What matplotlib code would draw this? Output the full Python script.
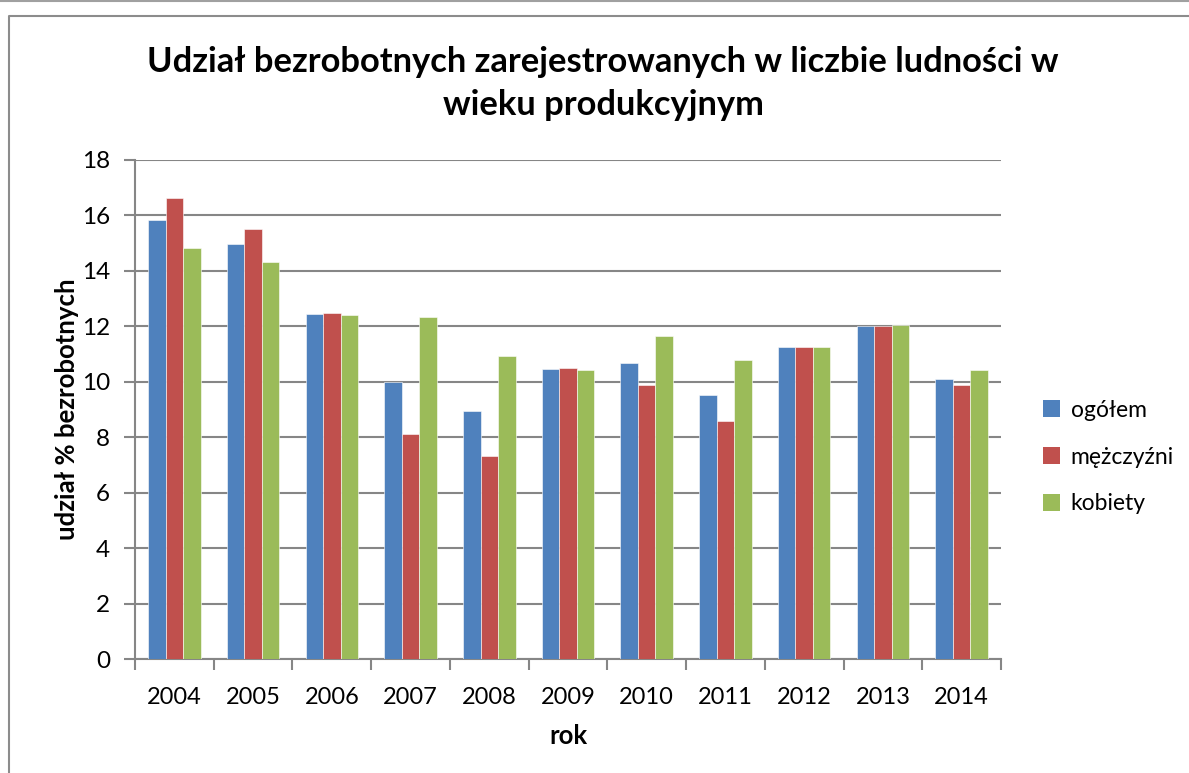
import numpy as np
import matplotlib.pyplot as plt
from matplotlib.lines import Line2D
from matplotlib.patches import Patch

plt.rcParams['font.family'] = ['Lato', 'DejaVu Sans']

years = ['2004', '2005', '2006', '2007', '2008', '2009', '2010', '2011', '2012', '2013', '2014']
ogolem = [15.83, 14.97, 12.44, 10.0, 8.93, 10.46, 10.66, 9.53, 11.24, 12.02, 10.11]
mezczyzni = [16.64, 15.52, 12.47, 8.1, 7.31, 10.48, 9.9, 8.57, 11.24, 12.02, 9.87]
kobiety = [14.84, 14.32, 12.40, 12.34, 10.94, 10.44, 11.64, 10.8, 11.27, 12.05, 10.41]

series = [('ogółem', ogolem, '#4F81BD'),
          ('mężczyźni', mezczyzni, '#C0504D'),
          ('kobiety', kobiety, '#9BBB59')]

W, H = 1189, 773
fig = plt.figure(figsize=(W / 100, H / 100), dpi=100)
ax = fig.add_axes([135 / W, 1 - 659 / H, (1001 - 135) / W, (659 - 160) / H])

x = np.arange(len(years))
bw = 1 / 4.5
for i, (name, vals, col) in enumerate(series):
    ax.bar(x + (i - 1) * bw, vals, width=bw, color=col, edgecolor='white',
           linewidth=0.4, label=name, zorder=3)

grid_c = '#868686'
ax.set_xlim(-0.5, len(years) - 0.5)
ax.set_ylim(0, 18)
ax.set_yticks(range(0, 19, 2))
ax.yaxis.grid(True, color=grid_c, linewidth=1.5, zorder=0)
ax.set_xticks(x)
ax.set_xticklabels(years)
ax.set_xticks(np.arange(-0.5, len(years)), minor=True)
ax.tick_params(axis='x', which='major', length=0, pad=20, labelsize=17)
ax.tick_params(axis='x', which='minor', length=8, width=1.5, color=grid_c, direction='out')
ax.tick_params(axis='y', length=8, width=1.5, color=grid_c, pad=10, labelsize=17.5)
for s in ['top', 'right']:
    ax.spines[s].set_visible(False)
for s in ['left', 'bottom']:
    ax.spines[s].set_color(grid_c)
    ax.spines[s].set_linewidth(1.5)

ax.set_xlabel('rok', fontsize=18.5, fontweight='bold', labelpad=12)
ax.set_ylabel('udział % bezrobotnych', fontsize=18.5, fontweight='bold', labelpad=2)

fig.text(603 / W, 1 - 62 / H, 'Udział bezrobotnych zarejestrowanych w liczbie ludności w',
         ha='center', va='center', fontsize=24.8, fontweight='bold')
fig.text(603 / W, 1 - 105 / H, 'wieku produkcyjnym',
         ha='center', va='center', fontsize=24.8, fontweight='bold')

handles = [Patch(facecolor=c, edgecolor='none') for _, _, c in series]
fig.legend(handles, [n for n, _, _ in series], loc='center left',
           bbox_to_anchor=(1043 / W, 1 - 457 / H), frameon=False, fontsize=16.5,
           borderpad=0, borderaxespad=0,
           handlelength=0.75, handleheight=0.75, handletextpad=0.45, labelspacing=1.12)

# outer chart frame
frame_c = '#8c8c8c'
fig.add_artist(Line2D([0, 1], [1 - 0.5 / H] * 2, color='#a0a0a0', linewidth=1.5))
fig.add_artist(Line2D([9 / W, 9 / W, 1], [0, 1 - 16 / H, 1 - 16 / H], color=frame_c, linewidth=1.5))

fig.savefig('out.png', dpi=100)
